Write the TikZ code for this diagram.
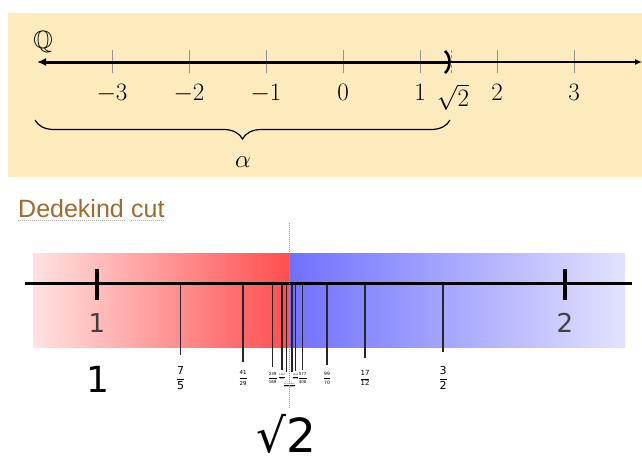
\documentclass[tikz,border=0pt]{standalone}
\usepackage{fix-cm}
\usepackage{amsmath,amssymb}
\usepackage{fontspec}
\newfontfamily\dv{DejaVu Sans}
\newfontfamily\lib{Liberation Sans}
\usetikzlibrary{arrows.meta,decorations.pathreplacing}
\definecolor{panel}{RGB}{253,235,190}
\definecolor{linkc}{RGB}{160,105,45}
\definecolor{redL}{RGB}{255,226,226}
\definecolor{redR}{RGB}{255,78,78}
\definecolor{bluL}{RGB}{112,112,255}
\definecolor{bluR}{RGB}{226,226,255}
\newcommand\rfrac[3]{\fontsize{#1}{#1}\selectfont$\dfrac{\text{\dv #2}}{\text{\dv #3}}$}
\tikzset{
  toplab/.style={font=\fontsize{25}{30}\selectfont, inner sep=0pt, anchor=north},
  gtick/.style={draw=gray!85, line width=0.8pt},
  rtick/.style={draw=black!85, line width=1.2pt},
  bigtick/.style={draw=black, line width=3.5pt},
  axislab/.style={font=\dv\fontsize{26}{30}\selectfont, text=black!75, inner sep=0pt},
  fraclab/.style={inner sep=0pt},
}
\begin{document}
\begin{tikzpicture}[x=1pt,y=-1pt]
\useasboundingbox (0,0) rectangle (642,463);
% ---------- top panel ----------
\fill[panel] (8,13) rectangle (642,177);
\foreach \v in {-3,...,3} {
  \draw[gtick] ({343+77*\v},50) -- ({343+77*\v},73);
  \node[toplab] (t\v) at ({343+77*\v},84) {$\v$};
}
\draw[gtick, dash pattern=on 3pt off 2pt] (451,50) -- (451,73);
\node[toplab] (tsq) at (453,84) {$\sqrt{2}$};
\node[font=\fontsize{25}{30}\selectfont, inner sep=0pt] (Q) at (43,42) {$\mathbb{Q}$};
\coordinate (lend) at (37,62);
\coordinate (cut) at (448,62);
\coordinate (rend) at (642,62);
\draw[line width=3pt, {Latex[length=9pt,width=8pt]}-] (lend) -- (cut);
\draw[line width=1.3pt, -{Latex[length=7pt,width=6pt]}] (cut) -- (rend);
\draw[line width=2.6pt] (445,51) .. controls (451,56) and (451,68) .. (445,73);
\coordinate (bl) at (35,120);
\coordinate (br) at (450,120);
\draw[line width=1.2pt, decorate, decoration={brace, mirror, amplitude=19pt}] (bl) -- (br);
\node[font=\fontsize{25}{30}\selectfont, inner sep=0pt] (alpha) at (243,162) {$\alpha$};
% ---------- bottom panel ----------
\node[font=\lib\fontsize{25}{30}\selectfont, text=linkc, anchor=base west, inner sep=0pt] (dk) at (18,217) {Dedekind};
\node[font=\lib\fontsize{25}{30}\selectfont, text=linkc, anchor=base west, inner sep=0pt] (ct) at ([xshift=7pt]dk.base east) {cut};
\draw[gray!60, line width=0.8pt, dash pattern=on 1pt off 1pt] ([yshift=-3pt]dk.base west) -- ([yshift=-3pt]dk.base east);
\draw[gray!60, line width=0.8pt, dash pattern=on 1pt off 1pt] ([yshift=-3pt]ct.base west) -- ([yshift=-3pt]ct.base east);
\shade[left color=redL, right color=redR] (33,253) rectangle (289.3,347);
\shade[left color=bluL, right color=bluR] (289.3,253) rectangle (625,347);
\foreach \x/\b/\s/\n/\d/\ly [count=\i] in {
  180.5/355/11/7/5/378, 243/362/5.5/41/29/378, 272.7/367/4/239/169/378,
  282/370/2.2/1393/985/377, 286.5/372/1.6/8119/5741/385, 292/372/1.6/19601/13860/385,
  295.5/371/2.2/3363/2378/377, 302.7/370/4/577/408/378, 327/365/4.5/99/70/378,
  365/358/7/17/12/378, 443/352/11/3/2/378} {
  \coordinate (ft\i) at (\x,283);
  \coordinate (fb\i) at (\x,\b);
  \draw[rtick] (ft\i) -- (fb\i);
  \node[fraclab] (fl\i) at (\x,\ly) {\rfrac{\s}{\n}{\d}};
}
\coordinate (axl) at (25,283);
\coordinate (axr) at (632,283);
\draw[line width=3pt] (axl) -- (axr);
\draw[bigtick] (97,269) -- (97,300);
\draw[bigtick] (565,269) -- (565,300);
\node[axislab] (one) at (97,323) {1};
\node[axislab] (two) at (565,323) {2};
\node[font=\dv\fontsize{36}{40}\selectfont, inner sep=0pt] (bigone) at (98,379) {1};
\node[font=\dv\fontsize{47}{52}\selectfont, inner sep=0pt, anchor=base] (bigsq) at (286,452) {√2};
\draw[gray!80, line width=1pt, dash pattern=on 1pt off 1pt] (289.3,223) -- (289.3,408);
\end{tikzpicture}
\end{document}
